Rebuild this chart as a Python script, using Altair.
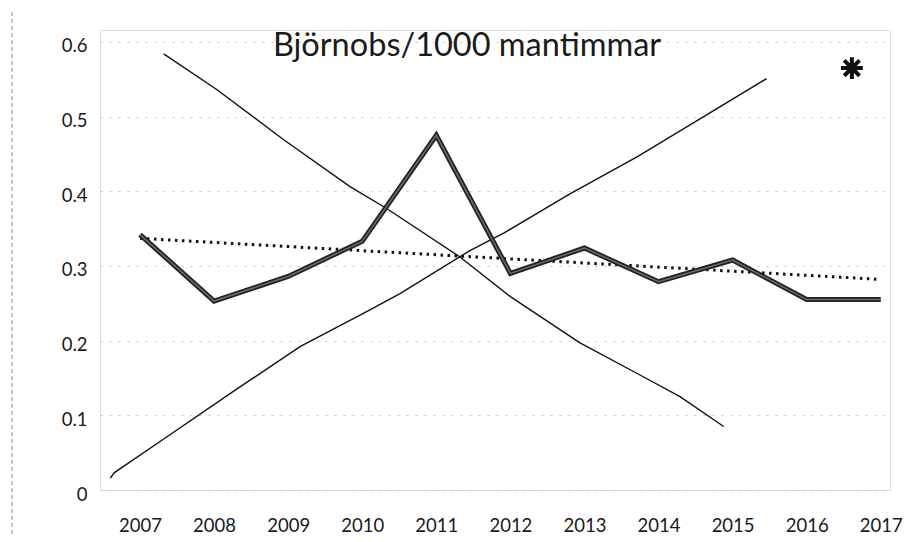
import altair as alt
import pandas as pd

# ---- data ----
years = list(range(2007, 2018))
obs = [0.342, 0.253, 0.286, 0.333, 0.475, 0.290, 0.324, 0.279, 0.308, 0.255, 0.255]

trend_years = [2007, 2017]
trend_vals = [0.337, 0.282]

down_x = [2007.32, 2008.04, 2008.94, 2009.84, 2010.33, 2011.32, 2012.00, 2012.94, 2013.75, 2014.29, 2014.88]
down_y = [0.584, 0.536, 0.469, 0.406, 0.377, 0.312, 0.259, 0.197, 0.154, 0.125, 0.085]

up_x = [2006.60, 2006.65, 2007.36, 2008.26, 2009.16, 2010.06, 2010.51, 2011.46, 2011.91, 2012.81, 2013.71, 2014.61, 2015.46]
up_y = [0.016, 0.023, 0.071, 0.132, 0.192, 0.239, 0.263, 0.321, 0.344, 0.397, 0.446, 0.500, 0.551]

star_x = [2016.61]
star_y = [0.565]

title_text = "Björnobs/1000 mantimmar"
y_ticks = [0, 0.1, 0.2, 0.3, 0.4, 0.5, 0.6]
x_ticks = years

FONT = "Lato"

xscale = alt.Scale(domain=[2006.46, 2017.125], nice=False, zero=False)
yscale = alt.Scale(domain=[0, 0.616], nice=False, zero=True)

xaxis = alt.Axis(values=x_ticks, labelExpr="format(datum.value, 'd')", grid=False,
                 domain=False, ticks=False, labelPadding=26, labelFontSize=18.5,
                 labelFont=FONT, labelColor="#1a1a1a", title=None, labelFlush=False)
yaxis = alt.Axis(values=y_ticks, labelExpr="datum.value == 0 ? '0' : format(datum.value, '.1f')",
                 grid=True, gridDash=[2, 7], gridColor="#c4c4c4", gridWidth=1,
                 domain=False, ticks=False, labelPadding=13, labelFontSize=18.5,
                 labelOffset=4,
                 labelFont=FONT, labelColor="#1a1a1a", title=None)

X = alt.X("x:Q", scale=xscale, axis=xaxis)
Y = alt.Y("y:Q", scale=yscale, axis=yaxis)

df_obs = pd.DataFrame({"x": years, "y": obs})
df_trend = pd.DataFrame({"x": trend_years, "y": trend_vals})
df_down = pd.DataFrame({"x": down_x, "y": down_y})
df_up = pd.DataFrame({"x": up_x, "y": up_y})
df_star = pd.DataFrame({"x": star_x, "y": star_y})

down = alt.Chart(df_down).mark_line(color="#111", strokeWidth=1.4).encode(x=X, y=Y)
up = alt.Chart(df_up).mark_line(color="#111", strokeWidth=1.4).encode(x=X, y=Y)
trend = alt.Chart(df_trend).mark_line(color="#111", strokeWidth=3, strokeDash=[2.5, 4.5],
                                      strokeCap="butt").encode(x=X, y=Y)
obs_outer = alt.Chart(df_obs).mark_line(color="#222", strokeWidth=5, strokeJoin="miter").encode(x=X, y=Y)
obs_inner = alt.Chart(df_obs).mark_line(color="#6a6a6a", strokeWidth=1.5, strokeJoin="miter").encode(x=X, y=Y)

star_path = "M-1,0L1,0M0,-1L0,1M-0.7,-0.7L0.7,0.7M-0.7,0.7L0.7,-0.7"
star = alt.Chart(df_star).mark_point(shape=star_path, filled=False, color="#111",
                                     strokeWidth=4, size=480, opacity=1).encode(x=X, y=Y)

title = alt.Chart(pd.DataFrame({"t": [title_text]})).mark_text(
    font=FONT, fontSize=32.5, color="#1a1a1a", align="center", baseline="alphabetic"
).encode(text="t:N", x=alt.value(367), y=alt.value(26))

border = alt.Chart(pd.DataFrame({"a": [0]})).mark_rule(
    color="#888", strokeDash=[4, 3], strokeWidth=1
).encode(x=alt.value(-88), y=alt.value(-18), y2=alt.value(512))

chart = alt.layer(border, down, up, trend, obs_outer, obs_inner, star, title).properties(
    width=790, height=460,
    autosize=alt.AutoSizeParams(type="none"),
    padding={"left": 92, "top": 22, "right": 13, "bottom": 44},
).configure_view(stroke=None).configure(background="white")

chart.save("out.html", embed_options={"renderer": "svg", "actions": False})
